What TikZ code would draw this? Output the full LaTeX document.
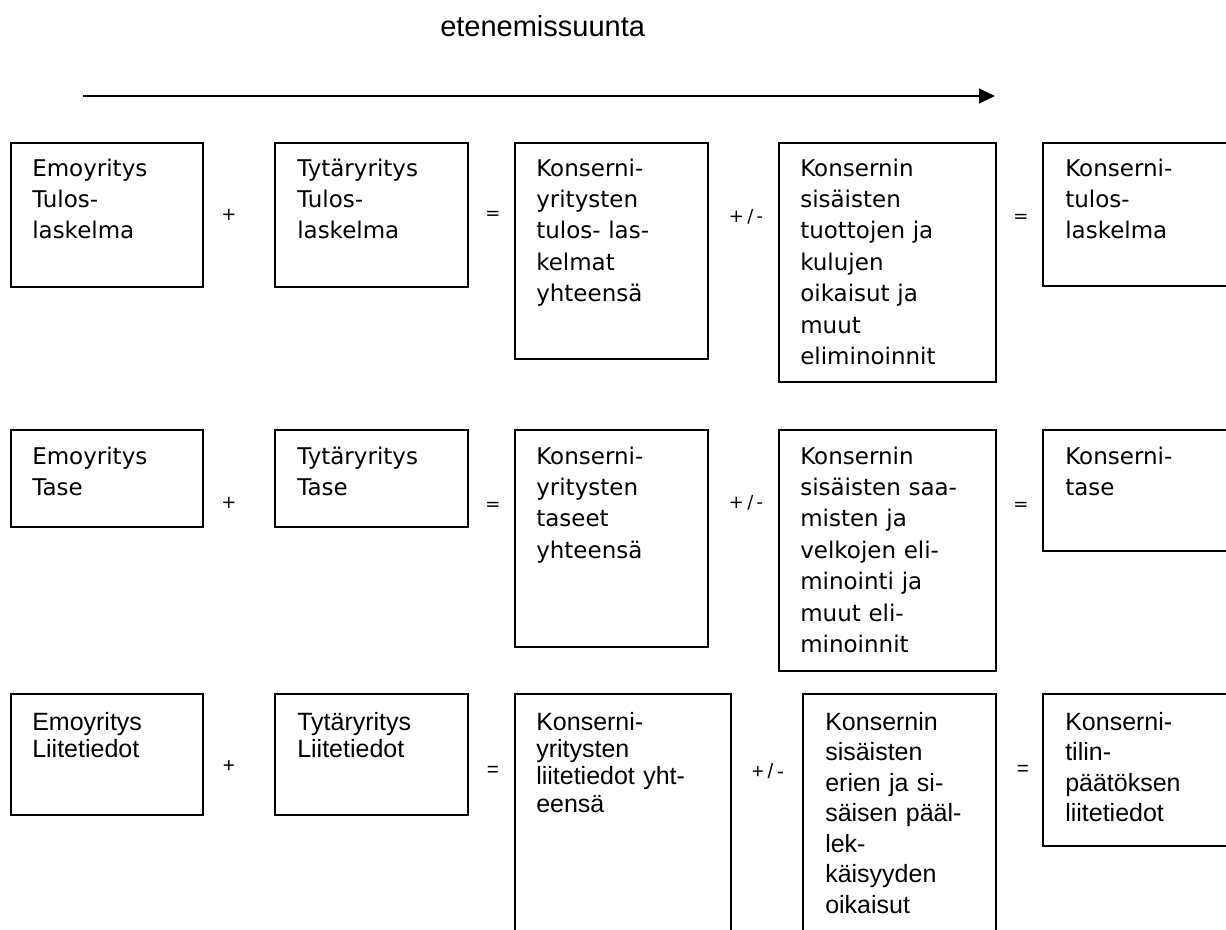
\documentclass[tikz,border=0pt]{standalone}
\usepackage{fontspec}
\usetikzlibrary{arrows.meta}
\newfontfamily\boxsans{DejaVu Sans}
\newfontfamily\notesans{Liberation Sans}
\newfontfamily\opsans{DejaVu Sans}[LetterSpace=18]
\newfontfamily\opnotesans{Liberation Sans}[LetterSpace=18]

% rectangular panel: name, left, top, right, bottom (pixel-like units)
\newcommand\panel[5]{%
  \node[frame, minimum width={(#4-#2)*0.75pt}, minimum height={(#5-#3)*0.75pt}] (#1) at (#2,#3) {};}

\begin{document}
\begin{tikzpicture}[x=0.75pt,y=-0.75pt,
  frame/.style={draw, line width=1.4pt, inner sep=0pt, outer sep=0pt, anchor=north west},
  txtA/.style={anchor=base west, inner sep=0pt, align=left, text width=220pt,
    font=\boxsans\fontsize{17.25}{23.6}\selectfont},
  txtB/.style={anchor=base west, inner sep=0pt, align=left, text width=220pt,
    font=\notesans\fontsize{18.75}{20.6}\selectfont},
  txtC/.style={txtB, font=\notesans\fontsize{18.75}{22.9}\selectfont},
  opA/.style={inner sep=0pt, font=\opsans\fontsize{13.5}{15}\selectfont},
  opB/.style={inner sep=0pt, font=\opnotesans\fontsize{15.5}{17}\selectfont},
  flow/.style={line width=1.6pt, -{Triangle[length=12pt,width=11pt]}}
]
\useasboundingbox (0,0) rectangle (1226,929);
\clip (0,0) rectangle (1226,929);

% heading and direction arrow
\node[anchor=base west, inner sep=0pt, font=\notesans\fontsize{21.75}{24}\selectfont] (head) at (440,36) {etenemissuunta};
\coordinate (dirS) at (83,96);
\coordinate (dirE) at (995,96);
\draw[flow] (dirS) -- (dirE);

% ---- income statement row ----
\panel{a1}{11}{143}{203}{287}
\panel{a2}{275}{143}{468}{287}
\panel{a3}{515}{143}{708}{359}
\panel{a4}{779}{143}{996}{382}
\panel{a5}{1043}{143}{1260}{286}
\node[txtA] (a1t) at (32,176) {Emoyritys\\Tulos-\\laskelma};
\node[txtA] (a2t) at (297,176) {Tytäryritys\\Tulos-\\laskelma};
\node[txtA] (a3t) at (536,176) {Konserni-\\yritysten\\tulos- las-\\kelmat\\yhteensä};
\node[txtA] (a4t) at (800,176) {Konsernin\\sisäisten\\tuottojen ja\\kulujen\\oikaisut ja\\muut\\eliminoinnit};
\node[txtA] (a5t) at (1065,176) {Konserni-\\tulos-\\laskelma};
\node[opA] (ap1) at (229,215) {+};
\node[opA] (ap2) at (493,215) {=};
\node[opA] (ap3) at (746,217) {+/-};
\node[opA] (ap4) at (1021,218) {=};

% ---- balance sheet row ----
\panel{b1}{11}{430}{203}{527}
\panel{b2}{275}{430}{468}{527}
\panel{b3}{515}{430}{708}{647}
\panel{b4}{779}{430}{996}{671}
\panel{b5}{1043}{430}{1260}{551}
\node[txtA] (b1t) at (32,464) {Emoyritys\\Tase};
\node[txtA] (b2t) at (297,464) {Tytäryritys\\Tase};
\node[txtA] (b3t) at (536,464) {Konserni-\\yritysten\\taseet\\yhteensä};
\node[txtA] (b4t) at (800,464) {Konsernin\\sisäisten saa-\\misten ja\\velkojen eli-\\minointi ja\\muut eli-\\minoinnit};
\node[txtA] (b5t) at (1065,464) {Konserni-\\tase};
\node[opA] (bp1) at (229,503) {+};
\node[opA] (bp2) at (493,506) {=};
\node[opA] (bp3) at (746,503) {+/-};
\node[opA] (bp4) at (1021,506) {=};

% ---- notes row ----
\panel{c1}{11}{694}{203}{815}
\panel{c2}{275}{694}{468}{815}
\panel{c3}{515}{694}{731}{960}
\panel{c4}{803}{694}{996}{960}
\panel{c5}{1043}{694}{1260}{846}
\node[txtB] (c1t) at (32,730) {Emoyritys\\Liitetiedot};
\node[txtB] (c2t) at (297,730) {Tytäryritys\\Liitetiedot};
\node[txtB] (c3t) at (536,730) {Konserni-\\yritysten\\liitetiedot yht-\\eensä};
\node[txtC] (c4t) at (825,730) {Konsernin\\sisäisten\\erien ja si-\\säisen pääl-\\lek-\\käisyyden\\oikaisut};
\node[txtC] (c5t) at (1065,730) {Konserni-\\tilin-\\päätöksen\\liitetiedot};
\node[opB] (cp1) at (229,767) {+};
\node[opB] (cp2) at (493,771) {=};
\node[opB] (cp3) at (768,771) {+/-};
\node[opB] (cp4) at (1023,770) {=};
\end{tikzpicture}
\end{document}
